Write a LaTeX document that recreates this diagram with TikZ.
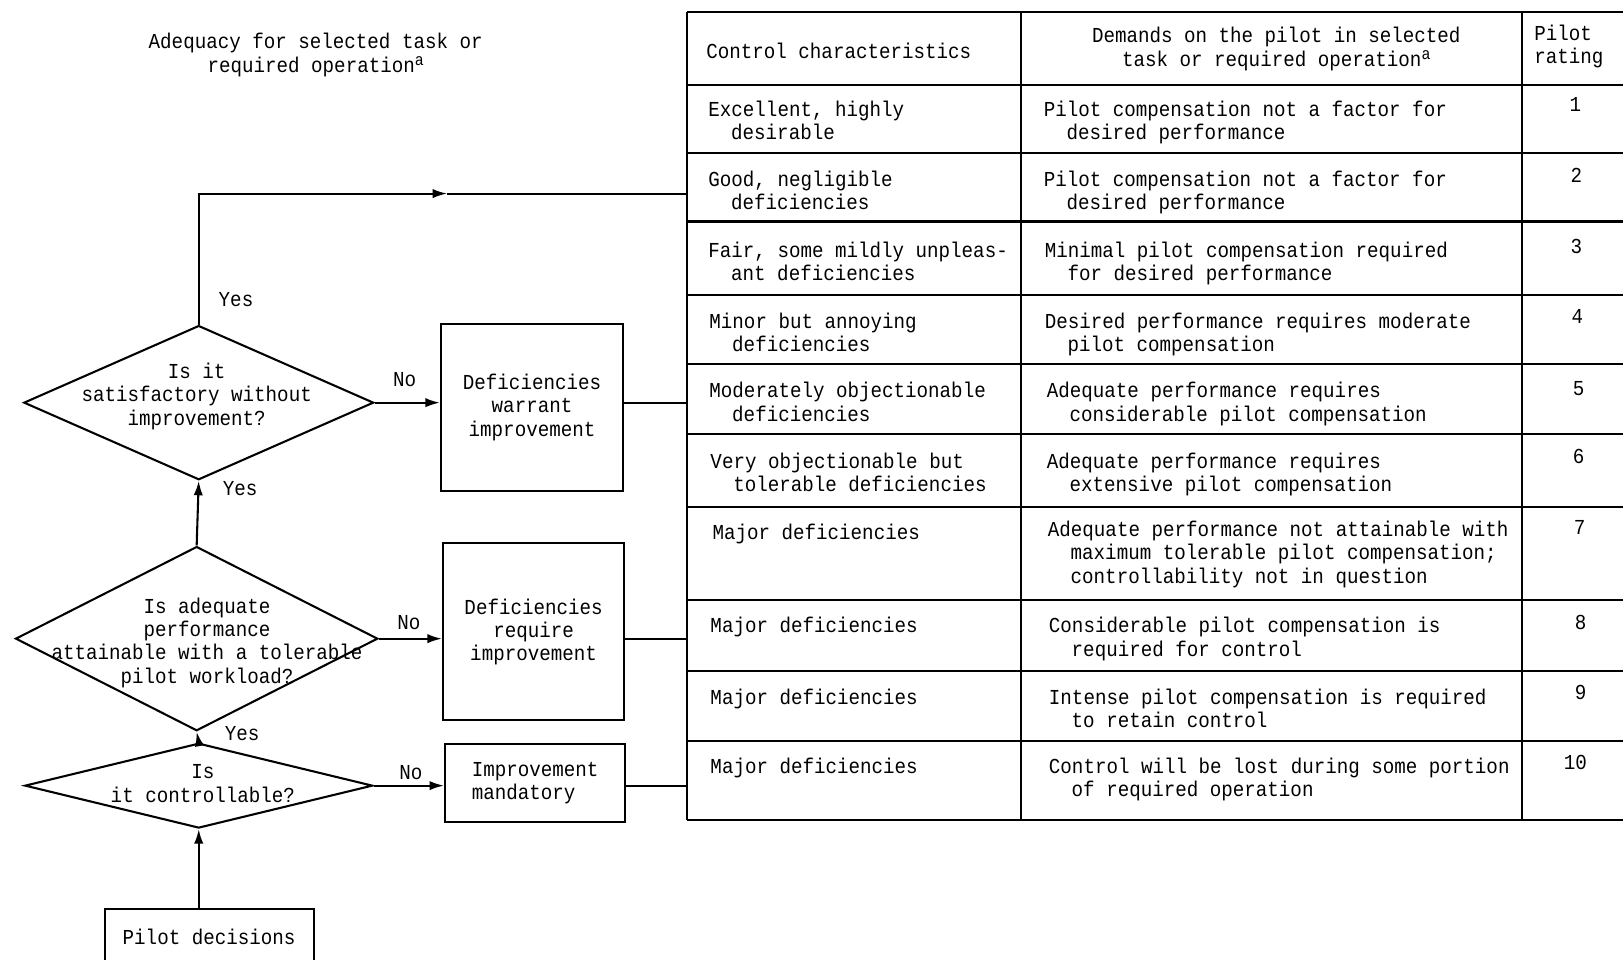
\documentclass[tikz,border=0pt]{standalone}
\usepackage{fontspec}
\newfontfamily\tw[FakeStretch=0.9]{Liberation Mono}
\usetikzlibrary{shapes.geometric,arrows.meta}
\newcommand\sr{\rule{0pt}{7pt}}
\newcommand\ind{\hspace*{11pt}}
\newcommand\supa{\raisebox{0.55ex}{\fontsize{8}{8}\selectfont a}}
\tikzset{
  every node/.style={font=\tw\fontsize{10.3}{11.25}\selectfont, inner sep=0pt},
  dia/.style={diamond, draw, line width=1pt, inner sep=0pt},
  box/.style={draw, line width=1pt, inner sep=0pt},
  arr/.style={line width=1pt, -{Latex[length=7pt,width=4.5pt]}},
  ln/.style={line width=1pt},
  cell/.style={align=left, anchor=north west},
  rate/.style={anchor=center},
  lbl/.style={anchor=center},
}
\begin{document}
\begin{tikzpicture}[x=0.5pt,y=-0.5pt]
\useasboundingbox (0,0) rectangle (1568,927);
\clip (0,0) rectangle (1568,927);

% title
\node[align=center] (title) at (305,53) {Adequacy for selected task or\\required operation\supa};

% table grid
\draw[ln] (664,12) -- (664,792);
\draw[ln] (986,12) -- (986,792);
\draw[ln] (1470,12) -- (1470,792);
\foreach \yy in {12,82,148,214,285,352,419,490,580,648,716,792}
  \draw[ln] (664,\yy) -- (1590,\yy);
\coordinate (tblL) at (664,0);

% header
\node[cell] (h1) at (682,41) {\sr Control characteristics};
\node[align=center, anchor=north] (h2) at (1233,26) {\sr Demands on the pilot in selected\\task or required operation\supa};
\node[cell] (h3) at (1482,24) {\sr Pilot\\rating};

% rows
\node[cell] (c1) at (684,97) {\sr Excellent, highly\\\ind desirable};
\node[cell] (d1t) at (1008,97) {\sr Pilot compensation not a factor for\\\ind desired performance};
\node[rate] (r1) at (1522,101) {1};

\node[cell] (c2) at (684,165) {\sr Good, negligible\\\ind deficiencies};
\node[cell] (d2t) at (1008,165) {\sr Pilot compensation not a factor for\\\ind desired performance};
\node[rate] (r2) at (1523,169) {2};

\node[cell] (c3) at (684,233) {\sr Fair, some mildly unpleas-\\\ind ant deficiencies};
\node[cell] (d3t) at (1009,233) {\sr Minimal pilot compensation required\\\ind for desired performance};
\node[rate] (r3) at (1523,238) {3};

\node[cell] (c4) at (685,302) {\sr Minor but annoying\\\ind deficiencies};
\node[cell] (d4t) at (1009,302) {\sr Desired performance requires moderate\\\ind pilot compensation};
\node[rate] (r4) at (1524,306) {4};

\node[cell] (c5) at (685,369) {\sr Moderately objectionable\\\ind deficiencies};
\node[cell] (d5t) at (1011,369) {\sr Adequate performance requires\\\ind considerable pilot compensation};
\node[rate] (r5) at (1525,375) {5};

\node[cell] (c6) at (686,437) {\sr Very objectionable but\\\ind tolerable deficiencies};
\node[cell] (d6t) at (1011,437) {\sr Adequate performance requires\\\ind extensive pilot compensation};
\node[rate] (r6) at (1525,441) {6};

\node[cell] (c7) at (688,506) {\sr Major deficiencies};
\node[cell] (d7t) at (1012,503) {\sr Adequate performance not attainable with\\\ind maximum tolerable pilot compensation;\\\ind controllability not in question};
\node[rate] (r7) at (1526,510) {7};

\node[cell] (c8) at (686,596) {\sr Major deficiencies};
\node[cell] (d8t) at (1013,596) {\sr Considerable pilot compensation is\\\ind required for control};
\node[rate] (r8) at (1527,601) {8};

\node[cell] (c9) at (686,665) {\sr Major deficiencies};
\node[cell] (d9t) at (1013,665) {\sr Intense pilot compensation is required\\\ind to retain control};
\node[rate] (r9) at (1527,669) {9};

\node[cell] (c10) at (686,732) {\sr Major deficiencies};
\node[cell] (d10t) at (1013,732) {\sr Control will be lost during some portion\\\ind of required operation};
\node[rate] (r10) at (1522,737) {10};

% flowchart
\node[dia, minimum width=169pt, minimum height=74.5pt] (q1) at (192,389) {};
\node[align=center] (q1t) at (190,383) {Is it\\satisfactory without\\improvement?};
\node[dia, minimum width=175pt, minimum height=89pt] (q2) at (190,617) {};
\node[align=center] (q2t) at (200,621) {Is adequate\\performance\\attainable with a tolerable\\pilot workload?};
\node[dia, minimum width=168pt, minimum height=41pt] (q3) at (192,759) {};
\node[align=center] (q3t) at (196,757) {Is\\it controllable?};

\node[box, align=center, minimum width=88pt, minimum height=80.5pt] (b1) at (514,393.5) {Deficiencies\\warrant\\improvement};
\node[box, align=center, minimum width=87.5pt, minimum height=85.5pt] (b2) at (515.5,610.5) {Deficiencies\\require\\improvement};
\node[box, align=left, minimum width=87pt, minimum height=37.5pt] (b3) at (517,756.5) {Improvement\\mandatory};
\node[box, minimum width=101pt, minimum height=27pt] (pd) at (202,905) {Pilot decisions};

\coordinate (ymid) at (432,187);
\draw[arr] (q1.north) |- (ymid);
\draw[ln] (ymid) -- (ymid -| tblL);
\draw[arr] (q1.east) -- (b1.west |- q1.east);
\draw[ln] (b1.east |- q1.east) -- (q1.east -| tblL);
\draw[arr] (q2.north) -- (q1.south);
\draw[arr] (q2.east) -- (b2.west |- q2.east);
\draw[ln] (b2.east |- q2.east) -- (q2.east -| tblL);
\draw[arr] (q3.north) -- (q2.south);
\draw[arr] (q3.east) -- (b3.west |- q3.east);
\draw[ln] (b3.east |- q3.east) -- (q3.east -| tblL);
\draw[arr] (q3.south |- pd.north) -- (q3.south);

\node[lbl] (y1) at (228,289) {Yes};
\node[lbl] (n1) at (391,367) {No};
\node[lbl] (y2) at (232,472) {Yes};
\node[lbl] (n2) at (395,601) {No};
\node[lbl] (y3) at (234,709) {Yes};
\node[lbl] (n3) at (397,746) {No};
\end{tikzpicture}
\end{document}
